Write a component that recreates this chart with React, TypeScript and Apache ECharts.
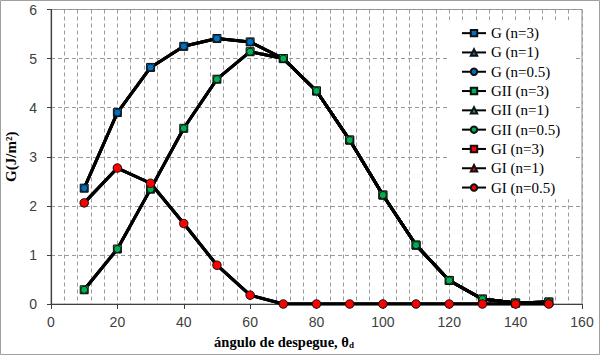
import React, { useEffect, useRef } from "react";
import * as echarts from "echarts";

const angles = [10, 20, 30, 40, 50, 60, 70, 80, 90, 100, 110, 120, 130, 140, 150];
const xTicks = [0, 20, 40, 60, 80, 100, 120, 140, 160];
const yTicks = [0, 1, 2, 3, 4, 5, 6];

// G total
const gN3 = [2.36, 3.9, 4.82, 5.25, 5.41, 5.34, 5.0, 4.34, 3.34, 2.22, 1.2, 0.48, 0.1, 0.02, 0.04];
const gN1 = [2.36, 3.9, 4.82, 5.25, 5.41, 5.34, 5.0, 4.34, 3.34, 2.22, 1.2, 0.48, 0.1, 0.02, 0.04];
const gN05 = [2.36, 3.9, 4.82, 5.25, 5.41, 5.34, 5.0, 4.34, 3.34, 2.22, 1.2, 0.48, 0.1, 0.02, 0.04];
// GII
const giiN3 = [0.29, 1.12, 2.34, 3.58, 4.58, 5.14, 5.0, 4.34, 3.34, 2.22, 1.2, 0.48, 0.1, 0.02, 0.04];
const giiN1 = [0.29, 1.12, 2.34, 3.58, 4.58, 5.14, 5.0, 4.34, 3.34, 2.22, 1.2, 0.48, 0.1, 0.02, 0.04];
const giiN05 = [0.29, 1.12, 2.34, 3.58, 4.58, 5.14, 5.0, 4.34, 3.34, 2.22, 1.2, 0.48, 0.1, 0.02, 0.04];
// GI
const giN3 = [2.06, 2.77, 2.46, 1.64, 0.79, 0.18, 0, 0, 0, 0, 0, 0, 0, 0, 0];
const giN1 = [2.06, 2.77, 2.46, 1.64, 0.79, 0.18, 0, 0, 0, 0, 0, 0, 0, 0, 0];
const giN05 = [2.06, 2.77, 2.46, 1.64, 0.79, 0.18, 0, 0, 0, 0, 0, 0, 0, 0, 0];

const seriesNames = [
  "G (n=3)", "G (n=1)", "G (n=0.5)",
  "GII (n=3)", "GII (n=1)", "GII (n=0.5)",
  "GI (n=3)", "GI (n=1)", "GI (n=0.5)",
];
const seriesValues = [gN3, gN1, gN05, giiN3, giiN1, giiN05, giN3, giN1, giN05];
const seriesColors = ["#0070C0", "#0070C0", "#0070C0", "#00B050", "#00B050", "#00B050", "#FF0000", "#FF0000", "#FF0000"];
const seriesSymbols = ["rect", "triangle", "circle", "rect", "triangle", "circle", "rect", "triangle", "circle"];
const seriesSymbolSizes = [8, 7, 7, 8, 7, 7, 6, 6, 8.5];

export default function App() {
  const ref = useRef<HTMLDivElement>(null);
  useEffect(() => {
    document.body.style.margin = "0";
    if (!ref.current) return;
    const chart = echarts.init(ref.current, null, { renderer: "svg" });
    const series = seriesNames.map((name, i) => ({
      name,
      type: "line",
      data: angles.map((a, j) => [a, seriesValues[i][j]]),
      symbol: seriesSymbols[i],
      symbolSize: seriesSymbolSizes[i],
      showAllSymbol: true,
      lineStyle: { color: "#000", width: 3 },
      itemStyle: {
        color: seriesColors[i],
        borderColor: "#111",
        borderWidth: 1,
      },
      emphasis: { disabled: true },
    }));
    chart.setOption({
      animation: false,
      grid: {
        left: 51,
        right: 18,
        top: 9.5,
        bottom: 51,
        show: true,
        borderColor: "#8c8c8c",
        borderWidth: 1,
        outerBoundsMode: "none",
      },
      xAxis: {
        type: "value",
        min: xTicks[0],
        max: xTicks[xTicks.length - 1],
        interval: 20,
        axisLine: { show: true, lineStyle: { color: "#404040", width: 1.2 } },
        axisTick: { show: true, length: 5, lineStyle: { color: "#404040" } },
        minorTick: { show: false, splitNumber: 5 },
        axisLabel: {
          margin: 11,
          fontFamily: "Liberation Sans",
          fontSize: 14,
          color: "#404040",
        },
        splitLine: { show: true, lineStyle: { color: "#9a9a9a", type: [4, 3], width: 1 } },
        minorSplitLine: { show: true, lineStyle: { color: "#9a9a9a", type: [4, 3], width: 1 } },
      },
      yAxis: {
        type: "value",
        min: yTicks[0],
        max: yTicks[yTicks.length - 1],
        interval: 1,
        name: "G(J/m²)",
        nameLocation: "middle",
        nameGap: 32,
        nameTextStyle: {
          fontFamily: "Liberation Serif",
          fontWeight: "bold",
          fontSize: 15,
          color: "#000",
        },
        axisLine: { show: true, lineStyle: { color: "#404040", width: 1.2 } },
        axisTick: { show: true, length: 4, lineStyle: { color: "#404040" } },
        axisLabel: {
          margin: 14,
          fontFamily: "Liberation Sans",
          fontSize: 14,
          color: "#404040",
        },
        splitLine: { show: true, lineStyle: { color: "#9a9a9a", type: [4, 3], width: 1 } },
      },
      legend: {
        orient: "vertical",
        left: 447,
        top: 20,
        padding: [3.5, 14, 2, 14],
        backgroundColor: "#fff",
        itemWidth: 24,
        itemHeight: 8,
        itemGap: 0,
        textStyle: {
          fontFamily: "Liberation Serif",
          fontSize: 15,
          color: "#000",
          lineHeight: 19.3,
        },
        data: seriesNames,
      },
      graphic: [
        {
          type: "text",
          x: 284,
          y: 342,
          style: {
            text: "{m|ángulo de despegue, θ}{s|d}",
            align: "center",
            verticalAlign: "middle",
            rich: {
              m: { fontFamily: "Liberation Serif", fontWeight: "bold", fontSize: 14.5, fill: "#000" },
              s: { fontFamily: "Liberation Serif", fontWeight: "bold", fontSize: 9, fill: "#000", padding: [6, 0, 0, 0] },
            },
          },
        },
        {
          type: "rect",
          shape: { x: 0.5, y: 0.5, width: 599, height: 354 },
          style: { fill: "none", stroke: "#a0a0a0", lineWidth: 1 },
          silent: true,
        },
      ],
      series,
    });
    return () => chart.dispose();
  }, []);
  return <div ref={ref} style={{ width: 600, height: 355 }} />;
}
